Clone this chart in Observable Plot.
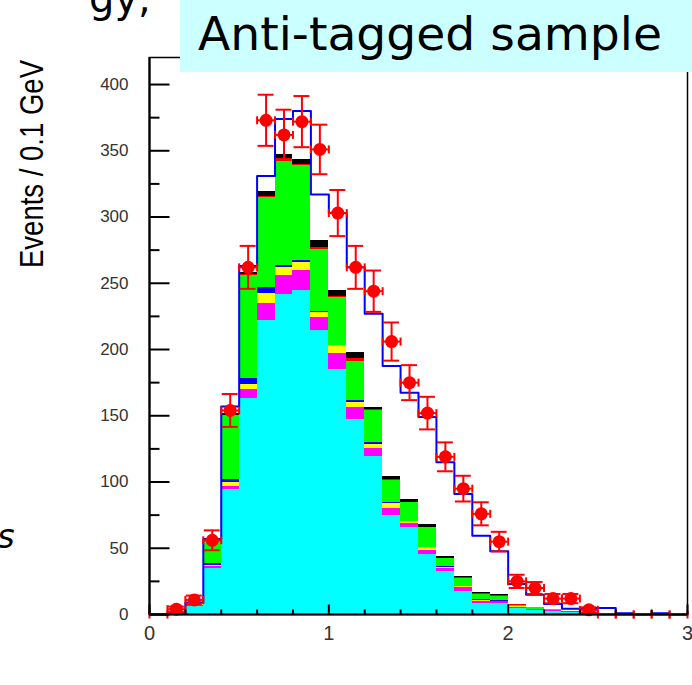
<!DOCTYPE html>
<html><head><meta charset="utf-8">
<script src="https://cdn.jsdelivr.net/npm/d3@7"></script>
<script src="https://cdn.jsdelivr.net/npm/@observablehq/plot@0.6"></script>
<style>
html,body{margin:0;padding:0;background:#fff;}
#wrap{position:relative;width:692px;height:685px;overflow:hidden;}
#chart{position:absolute;left:0;top:0;}
#overlay{position:absolute;left:0;top:0;pointer-events:none;}
</style>
</head><body>
<div id="wrap"><div id="chart"></div>
<svg id="overlay" width="692" height="685">
  <rect x="180" y="0" width="512" height="72" fill="#ccffff"></rect>
  <text x="198" y="50" font-family="DejaVu Sans" font-size="46" textLength="464" lengthAdjust="spacingAndGlyphs" fill="#000">Anti-tagged sample</text>
  <text x="89" y="12" font-family="DejaVu Sans" font-size="40" fill="#000">gy,</text>
  <text transform="translate(43,268) rotate(-90)" font-family="Liberation Sans" font-size="34" textLength="208" lengthAdjust="spacingAndGlyphs" fill="#000">Events / 0.1 GeV</text>
  <text x="-3" y="548" font-family="DejaVu Sans" font-style="italic" font-size="34" fill="#000">s</text>
</svg>
</div>
<script>
// ---- data ----
const binLow = [0.0,0.1,0.2,0.3,0.4,0.5,0.6,0.7,0.8,0.9,1.0,1.1,1.2,1.3,1.4,1.5,1.6,1.7,1.8,1.9,2.0,2.1,2.2,2.3,2.4,2.5,2.6,2.7,2.8,2.9];
const binWidth = 0.1;
// stacked MC components (bottom to top)
const cyanC    = [0,0,6,34.5,94,163,222,241.5,244.7,214,185,147,119.3,74.8,65.5,45,32.5,17.4,8.5,8.5,4.3,3,2.3,1.6,1,0.5,0,0,0,0];
const magentaC = [0,0,1,1.8,2.5,7,13,14.5,14.6,10.5,12.2,9,6.3,5,3,3.3,2,3.2,1.5,1.2,1.2,0.5,0.4,0.3,0.2,0,0,0,0,0];
const yellowC  = [0,0,0.3,0.8,3.5,3.5,7,6,6.7,3.8,5.6,4.3,3,4.2,1.7,2.1,0.6,0.4,0.6,0.4,0.3,0.2,0.1,0,0,0,0,0,0,0];
const blueC    = [0,0,0.3,1.2,2,5,4.5,1.6,1.4,0.5,0.5,1.3,1.1,0.5,0.3,0.3,1.2,0.3,0.4,0.4,0.4,0.2,0.1,0,0,0,0,0,0,0];
const greenC   = [0,0,0.9,17,48,77.5,68.2,79.8,71.6,46.9,35.9,29.7,24.3,16.5,13.9,14.8,5.6,6,4,3.1,0.7,1.3,0.7,0.4,0.3,0,0,0,0,0];
const redC     = [0,0,0,0,0.5,0.5,0.8,0.8,0.5,1.3,1,1.7,0.5,1,0.5,0.5,0.3,0.3,0.8,1.1,0.6,0.3,0,0,0,0,0,0,0,0];
const blackC   = [0,0,0.3,0.5,1.5,1.5,4,3,4.2,5.5,4.7,5,1.5,2.5,1.6,1.7,1.5,1.2,0.5,0.4,0.3,0,0,0,0,0,0,0,0,0];
// blue outline histogram
const mcTotal  = [0,1,9,57,157,263,331,374,380,317,303,262,227,187.5,167.4,149,115,91,59.5,47.8,23,15,8,4.3,5,5,1,0,1,0];
// data points and errors
const dataVals = [0,4,11,56,154,262,373,362,372,351,303,262,244,206,175,152,119,95,76,55,25,20,12,12,3.5,0,0,0,0,0];
const dataErrs = [0,2,3.3,7.5,12.4,16.2,19.3,19,19.3,18.7,17.4,16.2,15.6,14.4,13.2,12.3,10.9,9.7,8.7,7.4,5,4.5,3.5,3.5,1.9,0,0,0,0,0];
// axis ticks
const yMajor = [0,50,100,150,200,250,300,350,400];
const yMinor = [25,75,125,175,225,275,325,375];
const xMajor = [0,1,2,3];
const xMinor = [0.2,0.4,0.6,0.8,1.2,1.4,1.6,1.8,2.2,2.4,2.6,2.8];

// ---- build tables ----
const comps = [cyanC,magentaC,yellowC,blueC,greenC,redC,blackC];
const colors = ["#00ffff","#ff00ff","#ffff00","#0000ff","#00ff00","#ff0000","#000000"];
const rects = [];
binLow.forEach((x0,i)=>{
  let acc = 0;
  comps.forEach((arr,k)=>{
    const v = arr[i];
    if (v > 0) rects.push({x1:x0, x2:x0+binWidth, y1:acc, y2:acc+v, fill:colors[k]});
    acc += v;
  });
});
const linePts = binLow.map((x0,i)=>({x:x0, y:mcTotal[i]}));
linePts.push({x: binLow[binLow.length-1]+binWidth, y: mcTotal[mcTotal.length-1]});
const pts = binLow.map((x0,i)=>({lo:x0, hi:x0+binWidth, c:x0+binWidth/2, v:dataVals[i], e:dataErrs[i]}));
const nz = pts.filter(d=>d.v>0);
const edges = pts.flatMap(d=>[{x:d.lo,y:d.v},{x:d.hi,y:d.v}]);

const vTick = L => ({draw(ctx){ctx.moveTo(0,0);ctx.lineTo(0,-L);}});
const hTick = L => ({draw(ctx){ctx.moveTo(0,0);ctx.lineTo(L,0);}});
const vCap = L => ({draw(ctx){ctx.moveTo(0,-L);ctx.lineTo(0,L);}});

const RED = "#ff0000";
const chart = Plot.plot({
  width: 692, height: 685,
  marginLeft: 149, marginRight: 5, marginTop: 57, marginBottom: 71,
  x: {domain:[0,3], axis:null},
  y: {domain:[0,420.4], axis:null},
  style: {background:"white", overflow:"visible"},
  marks: [
    Plot.rect(rects, {x1:"x1", x2:"x2", y1:"y1", y2:"y2", fill:"fill", inset:0, shapeRendering:"crispEdges"}),
    Plot.line(linePts, {x:"x", y:"y", curve:"step-after", stroke:"#0000ff", strokeWidth:2}),
    // data: horizontal bin bars
    Plot.ruleY(pts, {x1:"lo", x2:"hi", y:"v", stroke:RED, strokeWidth:2}),
    Plot.dot(edges, {x:"x", y:"y", symbol:vCap(4), stroke:RED, strokeWidth:2, fill:"none"}),
    // vertical errors with caps
    Plot.ruleX(nz, {x:"c", y1:d=>d.v-d.e, y2:d=>d.v+d.e, stroke:RED, strokeWidth:2}),
    Plot.ruleY(nz, {x1:"lo", x2:"hi", y:d=>d.v+d.e, stroke:RED, strokeWidth:2, insetLeft:1, insetRight:1}),
    Plot.ruleY(nz, {x1:"lo", x2:"hi", y:d=>d.v-d.e, stroke:RED, strokeWidth:2, insetLeft:1, insetRight:1}),
    Plot.dot(nz, {x:"c", y:"v", r:6.5, fill:RED}),
    // frame
    Plot.frame({stroke:"#000", strokeWidth:1.5}),
    Plot.ruleX([0], {stroke:"#000", strokeWidth:2.2}),
    Plot.ruleY([0], {stroke:"#000", strokeWidth:2.2}),
    // ticks
    Plot.dot(yMajor, {x:0, y:d=>d, symbol:hTick(20), stroke:"#000", strokeWidth:2, fill:"none"}),
    Plot.dot(yMinor, {x:0, y:d=>d, symbol:hTick(10), stroke:"#000", strokeWidth:2, fill:"none"}),
    Plot.dot(xMajor, {x:d=>d, y:0, symbol:vTick(10), stroke:"#000", strokeWidth:2, fill:"none"}),
    Plot.dot(xMinor, {x:d=>d, y:0, symbol:vTick(5), stroke:"#000", strokeWidth:2, fill:"none"}),
    // tick labels
    Plot.text(yMajor, {x:0, y:d=>d, text:d=>String(d), dx:-21, textAnchor:"end", fontSize:17, fill:"#333", fontFamily:"Liberation Sans"}),
    Plot.text(xMajor, {x:d=>d, y:0, text:d=>String(d), dy:19, fontSize:20, fill:"#333", fontFamily:"Liberation Sans"})
  ]
});
document.getElementById("chart").appendChild(chart);
</script>
</body></html>
